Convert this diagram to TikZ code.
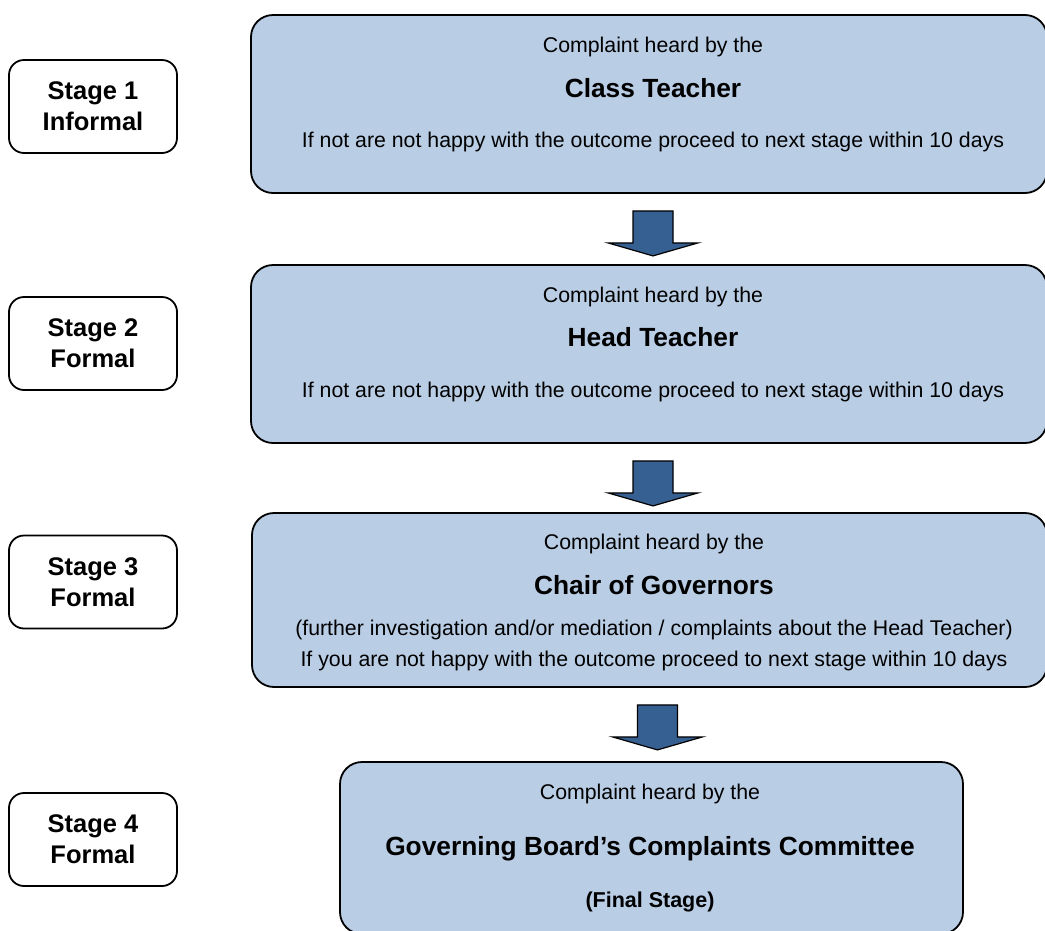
\documentclass[tikz,border=0pt]{standalone}
\usepackage{fontspec}
\setmainfont{Liberation Sans}
\definecolor{panelblue}{RGB}{185,205,229}
\definecolor{arrowblue}{RGB}{55,96,146}

\begin{document}
\begin{tikzpicture}[x=1pt,y=-1pt,
    stagebox/.style={draw, line width=1.8pt, rounded corners=15pt, fill=white, minimum width=168pt, minimum height=93pt, align=center, font=\fontsize{25.5}{31}\selectfont\bfseries},
    panel/.style={draw, line width=1.8pt, rounded corners=22pt, fill=panelblue},
    heard/.style={anchor=base, inner sep=0pt, font=\fontsize{21.3}{25}\selectfont},
    who/.style={anchor=base, inner sep=0pt, font=\fontsize{26.3}{31}\selectfont\bfseries},
    blockarrow/.style={draw, line width=1.2pt, fill=arrowblue, line join=miter}]
%\draw[help lines, color=gray!30, dashed] (0,0) grid[step=50] (1045,930);
\useasboundingbox (0,0) rectangle (1045,930);

\node[stagebox] (s1) at (93,106.5) {Stage 1\\Informal};
\node[stagebox] (s2) at (93,343.5) {Stage 2\\Formal};
\node[stagebox] (s3) at (93,582) {Stage 3\\Formal};
\node[stagebox] (s4) at (93,839.5) {Stage 4\\Formal};

\node[panel, minimum width=796pt, minimum height=178pt] (class) at (649,104) {};
\node[heard] (class-by) at (653,52) {Complaint heard by the};
\node[who] (class-who) at (653,97) {Class Teacher};
\node[heard] (class-next) at (653,147) {If not are not happy with the outcome proceed to next stage within 10 days};

\node[panel, minimum width=796pt, minimum height=178pt] (head) at (649,354) {};
\node[heard] (head-by) at (653,302) {Complaint heard by the};
\node[who] (head-who) at (653,346) {Head Teacher};
\node[heard] (head-next) at (653,397) {If not are not happy with the outcome proceed to next stage within 10 days};

\node[panel, minimum width=795pt, minimum height=174pt] (chair) at (649.5,600) {};
\node[heard] (chair-by) at (654,549) {Complaint heard by the};
\node[who] (chair-who) at (654,594) {Chair of Governors};
\node[heard] (chair-note) at (654,635) {(further investigation and/or mediation / complaints about the Head Teacher)};
\node[heard] (chair-next) at (654,666) {If you are not happy with the outcome proceed to next stage within 10 days};

\node[panel, minimum width=623pt, minimum height=172pt] (board) at (651.5,848) {};
\node[heard] (board-by) at (650,799) {Complaint heard by the};
\node[who] (board-who) at (650,855) {Governing Board’s Complaints Committee};
\node[heard, font=\fontsize{21.5}{25}\selectfont\bfseries] (board-final) at (650,907) {(Final Stage)};

% block arrows between the panels
\foreach \from/\dx in {class/-16, head/-16, chair/-12}
  \draw[blockarrow] ([xshift=\dx pt, yshift=-17pt]\from.south) -- ++(40,0) -- ++(0,32) -- ++(25,0)
    -- ++(-45,13) -- ++(-45,-13) -- ++(25,0) -- cycle;
\end{tikzpicture}
\end{document}
